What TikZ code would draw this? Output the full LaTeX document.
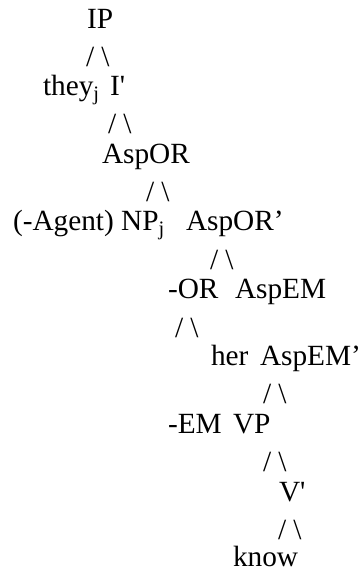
\documentclass[tikz,border=0pt]{standalone}
\usepackage{fontspec}
\setmainfont{Liberation Serif}[Ligatures=TeXOff]
\begin{document}
\begin{tikzpicture}[x=0.5pt,y=-0.5pt,
    word/.style={anchor=base west,inner sep=0pt,outer sep=0pt,font=\fontsize{14.65pt}{17pt}\selectfont},
    fork/.style={word}]
    \useasboundingbox (0,0) rectangle (363,571);
    \node[word] (IP) at (87,29) {IP};
    \node[fork] (f1) at (86,67) {/ \textbackslash};
    \node[word] (they) at (43,96) {they\textsubscript{j}};
    \node[word] (Ibar) at (110,96) {I'};
    \node[fork] (f2) at (108,134) {/ \textbackslash};
    \node[word] (AspOR) at (102,164) {AspOR};
    \node[fork] (f3) at (146,202) {/ \textbackslash};
    \node[word] (agentNP) at (13,231) {(-Agent) NP\textsubscript{j}};
    \node[word] (AspORbar) at (186,231) {AspOR’};
    \node[fork] (f4) at (210,269) {/ \textbackslash};
    \node[word] (OR) at (168,298) {-OR};
    \node[word] (AspEM) at (235,298) {AspEM};
    \node[fork] (f5) at (175,337) {/ \textbackslash};
    \node[word] (her) at (211,365) {her};
    \node[word] (AspEMbar) at (260,365) {AspEM’};
    \node[fork] (f6) at (263,403) {/ \textbackslash};
    \node[word] (EM) at (168,433) {-EM};
    \node[word] (VP) at (233,433) {VP};
    \node[fork] (f7) at (263,471) {/ \textbackslash};
    \node[word] (Vbar) at (279,501) {V'};
    \node[fork] (f8) at (278,539) {/ \textbackslash};
    \node[word] (know) at (233,566) {know};
\end{tikzpicture}
\end{document}
